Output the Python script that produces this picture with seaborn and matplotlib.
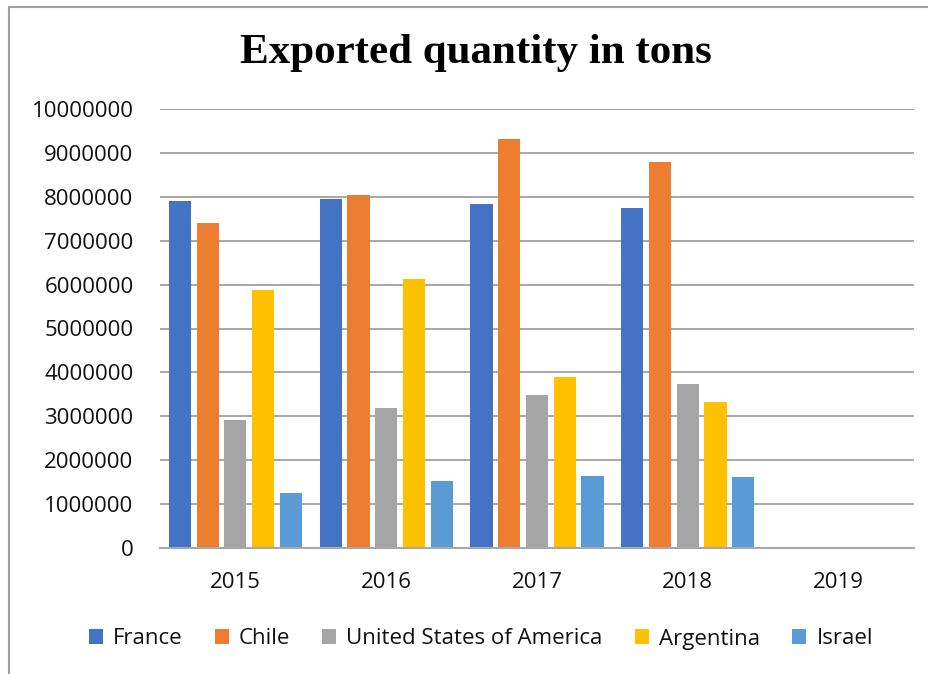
import matplotlib
matplotlib.use("Agg")
import matplotlib.pyplot as plt
from matplotlib.lines import Line2D
from matplotlib.patches import Patch
import seaborn as sns
import pandas as pd

years = ["2015", "2016", "2017", "2018", "2019"]
countries = ["France", "Chile", "United States of America", "Argentina", "Israel"]
france = [7910000, 7950000, 7830000, 7740000, 0]
chile = [7400000, 8050000, 9320000, 8790000, 0]
usa = [2910000, 3200000, 3490000, 3740000, 0]
argentina = [5880000, 6130000, 3890000, 3330000, 0]
israel = [1260000, 1530000, 1640000, 1610000, 0]
colors = ["#4472C4", "#ED7D31", "#A5A5A5", "#FFC000", "#5B9BD5"]
y_ticks = [0, 1000000, 2000000, 3000000, 4000000, 5000000,
           6000000, 7000000, 8000000, 9000000, 10000000]

series = [france, chile, usa, argentina, israel]
rows = []
for name, vals in zip(countries, series):
    for yr, v in zip(years, vals):
        rows.append({"Year": yr, "Country": name, "Tons": v})
df = pd.DataFrame(rows)

sns.set_theme(style="white")
plt.rcParams["font.family"] = ["Open Sans", "DejaVu Sans"]

W, H = 929, 674
fig = plt.figure(figsize=(W / 100, H / 100), dpi=100)
ax = fig.add_axes([160 / W, 1 - 548 / H, (914 - 160) / W, (548 - 109) / H])

sns.barplot(data=df, x="Year", y="Tons", hue="Country", order=years,
            hue_order=countries, palette=colors, saturation=1, width=0.92,
            gap=0.2, linewidth=0, ax=ax, legend=False, errorbar=None)

ax.set_ylim(0, 10000000)
ax.set_xlim(-0.5, 4.5)
ax.set_yticks(y_ticks)
ax.set_yticklabels([str(t) for t in y_ticks])
ax.set_xlabel("")
ax.set_ylabel("")
ax.yaxis.grid(True, color="#a0a0a0", linewidth=1.3)
ax.set_axisbelow(True)
for s in ["left", "right", "top"]:
    ax.spines[s].set_visible(False)
ax.spines["bottom"].set_color("#a8a8a8")
ax.spines["bottom"].set_linewidth(1.5)
ax.tick_params(axis="y", length=0, pad=19, labelsize=16, labelcolor="#111111")
ax.tick_params(axis="x", length=0, pad=17, labelsize=16, labelcolor="#111111")

fig.text(476 / W, 1 - 53 / H, "Exported quantity in tons",
         family=["Liberation Serif", "DejaVu Serif"], fontweight="bold",
         fontsize=31, ha="center", va="center", color="black")

handles = [Patch(facecolor=c, edgecolor="none", label=n)
           for c, n in zip(colors, countries)]
fig.legend(handles=handles, loc="center", bbox_to_anchor=(481 / W, 1 - 639 / H),
           ncol=5, frameon=False, fontsize=16, handlelength=0.63,
           handleheight=0.63, handletextpad=0.45, columnspacing=1.45,
           labelcolor="#111111")

# outer chart frame
fig.add_artist(Line2D([9 / W, 9 / W], [0, 1 - 7 / H], transform=fig.transFigure,
                      color="#a0a0a0", linewidth=1.5))
fig.add_artist(Line2D([9 / W, 1], [1 - 7 / H, 1 - 7 / H], transform=fig.transFigure,
                      color="#a0a0a0", linewidth=1.5))

fig.savefig("out.png", dpi=100)
